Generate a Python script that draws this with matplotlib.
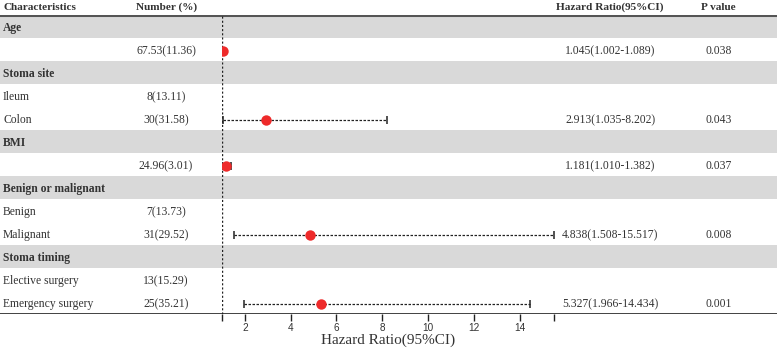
import numpy as np
import matplotlib
matplotlib.use("Agg")
import matplotlib.pyplot as plt

# %% data

labels = ["Age", "", "Stoma site", "Ileum", "Colon", "BMI", "",
          "Benign or malignant", "Benign", "Malignant", "Stoma timing",
          "Elective surgery", "Emergency surgery"]
is_group = [True, False, True, False, False, True, False,
            True, False, False, True, False, False]
numbers = ["", "67.53(11.36)", "", "8(13.11)", "30(31.58)", "", "24.96(3.01)",
           "", "7(13.73)", "31(29.52)", "", "13(15.29)", "25(35.21)"]
hr = [np.nan, 1.045, np.nan, np.nan, 2.913, np.nan, 1.181,
      np.nan, np.nan, 4.838, np.nan, np.nan, 5.327]
lo = [np.nan, 1.002, np.nan, np.nan, 1.035, np.nan, 1.010,
      np.nan, np.nan, 1.508, np.nan, np.nan, 1.966]
hi = [np.nan, 1.089, np.nan, np.nan, 8.202, np.nan, 1.382,
      np.nan, np.nan, 15.517, np.nan, np.nan, 14.434]
hr_text = ["", "1.045(1.002-1.089)", "", "", "2.913(1.035-8.202)", "", "1.181(1.010-1.382)",
           "", "", "4.838(1.508-15.517)", "", "", "5.327(1.966-14.434)"]
p_text = ["", "0.038", "", "", "0.043", "", "0.037", "", "", "0.008", "", "", "0.001"]

tick_vals = [1, 2, 4, 6, 8, 10, 12, 14, 15.5]
tick_labels = ["", "2", "4", "6", "8", "10", "12", "14", ""]
x_min, x_max = 1, 15.5

# %% layout

W, H = 777, 348
top, bottom = 15, 314
n = len(labels)
txt = "#333333"
serif = ["Liberation Serif", "DejaVu Serif"]
fs = 8.4

fig = plt.figure(figsize=(W / 100, H / 100), dpi=100)

# table axes: x in pixels, y in rows
ax = fig.add_axes([0, (H - bottom) / H, 1, (bottom - top) / H])
ax.set_xlim(0, W)
ax.set_ylim(n, 0)
ax.axis("off")

for i in range(n):
    if is_group[i]:
        ax.axhspan(i, i + 1, color="#d9d9d9", lw=0, zorder=0)
    yc = i + 0.57
    if labels[i]:
        ax.text(3, yc, labels[i], ha="left", va="center", fontsize=fs,
                family=serif, color=txt, fontweight="bold" if is_group[i] else "normal")
    if numbers[i]:
        ax.text(166, yc, numbers[i], ha="center", va="center", fontsize=fs, family=serif, color=txt)
    if hr_text[i]:
        ax.text(610, yc, hr_text[i], ha="center", va="center", fontsize=fs, family=serif, color=txt)
    if p_text[i]:
        ax.text(719, yc, p_text[i], ha="center", va="center", fontsize=fs, family=serif, color=txt)

# headers
hy = -0.33
ax.text(3, hy, "Characteristics", ha="left", va="center", fontsize=8.1,
        family=serif, fontweight="bold", color=txt)
ax.text(167, hy, "Number (%)", ha="center", va="center", fontsize=8.1,
        family=serif, fontweight="bold", color=txt)
ax.text(610, hy, "Hazard Ratio(95%CI)", ha="center", va="center", fontsize=8.1,
        family=serif, fontweight="bold", color=txt)
ax.text(718, hy, "P value", ha="center", va="center", fontsize=8.1,
        family=serif, fontweight="bold", color=txt)

ax.axhline(0, color="#555555", lw=2.2, zorder=3)
ax.axhline(n, color="#333333", lw=1.3, zorder=3)

# forest axes
fx0, fx1 = 222, 554
fa = fig.add_axes([fx0 / W, (H - bottom) / H, (fx1 - fx0) / W, (bottom - top) / H])
fa.set_xlim(x_min, x_max)
fa.set_ylim(n, 0)
fa.patch.set_alpha(0)
for s in ["top", "right", "left", "bottom"]:
    fa.spines[s].set_visible(False)
fa.set_yticks([])
fa.set_xticks(tick_vals)
fa.set_xticklabels(tick_labels, family=["Liberation Sans", "DejaVu Sans"], fontsize=7.2, color=txt)
fa.tick_params(axis="x", length=5, width=1.0, color="#222222", pad=1.5)

fa.axvline(1, color="#222222", lw=1.0, ls=(0, (1.5, 1.5)), zorder=2)

ys = np.arange(n) + 0.57
hr_a = np.array(hr)
lo_a = np.clip(np.array(lo), x_min, x_max)
hi_a = np.clip(np.array(hi), x_min, x_max)
ok = ~np.isnan(hr_a)
fa.hlines(ys[ok], lo_a[ok], hi_a[ok], color="#222222", lw=0.9, ls=(0, (2, 1.2)), zorder=3)
fa.errorbar(hr_a[ok], ys[ok], xerr=[hr_a[ok] - lo_a[ok], hi_a[ok] - hr_a[ok]],
            fmt="none", ecolor="#222222", elinewidth=0, capsize=3.2, capthick=1.1, zorder=3)
fa.plot(hr_a[ok], ys[ok], "o", color="#ee2a2a", ms=7.5, mec="none", zorder=4)

fa.set_xlabel("Hazard Ratio(95%CI)", family=serif, fontsize=11, color=txt, labelpad=0.5)

fig.savefig("out.png", dpi=100)
